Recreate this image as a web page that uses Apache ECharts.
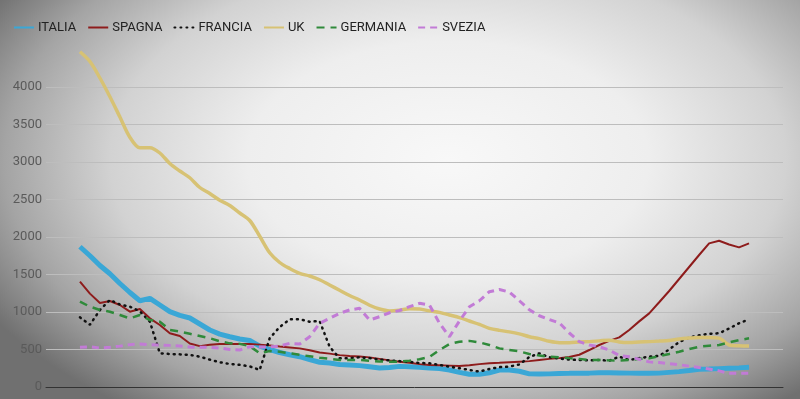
<!DOCTYPE html>
<html>
<head>
<meta charset="utf-8">
<script src="https://cdn.jsdelivr.net/npm/echarts@6/dist/echarts.min.js"></script>
<style>
  html, body { margin: 0; padding: 0; }
  #chart {
    width: 800px;
    height: 399px;
    background: radial-gradient(ellipse 66% 78% at 56% 40%, #f8f8f8 0%, #eeeeee 38%, #d2d2d2 64%, #a4a4a4 84%, #707070 100%);
  }
</style>
</head>
<body>
<div id="chart"></div>
<script>
// giorni (indice), un punto ogni giorno circa
const days = Array.from({ length: 68 }, (_, i) => i);

const italia = [1870, 1750, 1620, 1510, 1380, 1260, 1150, 1182, 1093, 1004, 955, 920, 840, 760, 705, 670, 640, 620, 545, 500,
  460, 430, 404, 365, 330, 320, 300, 293, 285, 270, 252, 260, 275, 271, 264, 252, 245, 227, 195, 170,
  170, 190, 225, 227, 210, 175, 173, 175, 180, 182, 185, 185, 190, 190, 188, 185, 183, 182, 185, 195,
  205, 220, 236, 240, 245, 250, 255, 262];
const spagna = [1404, 1245, 1120, 1147, 1093, 1004, 1040, 916, 827, 716, 680, 580, 545, 562, 573, 573, 573, 575, 565, 555,
  540, 528, 515, 490, 460, 445, 425, 413, 406, 395, 375, 355, 338, 322, 305, 294, 290, 285, 280, 290,
  305, 316, 322, 330, 338, 345, 360, 375, 385, 400, 430, 493, 560, 615, 662, 760, 875, 982, 1130, 1280,
  1440, 1600, 1760, 1915, 1950, 1900, 1862, 1915];
const francia = [929, 830, 1027, 1160, 1100, 1071, 1010, 871, 450, 440, 435, 428, 405, 365, 330, 307, 295, 275, 227, 650,
  800, 902, 902, 871, 880, 537, 382, 385, 396, 385, 365, 355, 345, 335, 320, 316, 295, 271, 250, 227,
  205, 240, 265, 271, 300, 400, 449, 396, 380, 365, 360, 355, 360, 351, 404, 360, 385, 404, 415, 500,
  600, 660, 690, 710, 716, 780, 850, 902];
const uk = [4470, 4340, 4120, 3870, 3600, 3330, 3190, 3190, 3120, 2980, 2880, 2790, 2660, 2580, 2490, 2420, 2320, 2220, 2010, 1790,
  1660, 1580, 1515, 1480, 1430, 1360, 1290, 1220, 1160, 1090, 1040, 1015, 1025, 1045, 1040, 1015, 995, 960, 925, 880,
  835, 782, 755, 735, 708, 671, 645, 610, 591, 591, 600, 605, 615, 625, 600, 592, 600, 605, 612, 620,
  640, 652, 660, 660, 652, 560, 550, 547];
const germania = [1138, 1071, 1027, 1004, 960, 915, 960, 893, 871, 760, 740, 710, 680, 650, 610, 582, 575, 545, 449, 480,
  470, 450, 430, 410, 390, 375, 360, 360, 360, 350, 340, 338, 338, 350, 370, 400, 493, 573, 604, 615,
  595, 560, 515, 493, 475, 440, 420, 404, 396, 385, 375, 360, 360, 355, 351, 360, 375, 382, 410, 440,
  471, 505, 537, 550, 560, 595, 625, 649];
const svezia = [529, 535, 520, 530, 545, 565, 573, 565, 560, 555, 547, 533, 529, 529, 520, 500, 493, 537, 533, 535,
  547, 582, 573, 671, 849, 916, 982, 1027, 1049, 893, 937, 990, 1020, 1071, 1116, 1093, 850, 670, 880, 1070,
  1150, 1271, 1300, 1265, 1150, 1030, 950, 900, 855, 720, 604, 560, 537, 493, 420, 404, 370, 335, 326, 312,
  297, 278, 260, 240, 215, 182, 182, 182];

const yTicks = [0, 500, 1000, 1500, 2000, 2500, 3000, 3500, 4000, 4500];

const pairs = (vals) => vals.map((v, i) => [days[i], v]);

const chart = echarts.init(document.getElementById("chart"));

const option = {
  backgroundColor: "transparent",
  animation: false,
  textStyle: { fontFamily: "Roboto" },
  legend: {
    left: 8,
    top: 16,
    itemWidth: 20,
    itemHeight: 12,
    itemGap: 11,
    itemStyle: { opacity: 0 },
    textStyle: { fontSize: 13, color: "#222", padding: [0, 0, 0, -1] },
    data: ["ITALIA", "SPAGNA", "FRANCIA", "UK", "GERMANIA", "SVEZIA"],
  },
  grid: {
    left: 46,
    right: 17,
    top: 49.5,
    bottom: 12,
  },
  xAxis: {
    type: "value",
    min: -3.4,
    max: 70.4,
    axisLine: { show: true, lineStyle: { color: "#333", width: 1 } },
    axisTick: { show: false },
    axisLabel: { show: false },
    splitLine: { show: false },
  },
  yAxis: {
    type: "value",
    min: yTicks[0],
    max: yTicks[yTicks.length - 1],
    interval: 500,
    axisLine: { show: false },
    axisTick: { show: false },
    axisLabel: {
      color: "#5a5a5a",
      fontSize: 13,
      margin: 4,
      showMaxLabel: false,
      formatter: (v) => String(v),
    },
    splitLine: {
      showMaxLine: false,
      lineStyle: { color: "#bdbdbd", width: 1.2 },
    },
  },
  series: [
    {
      name: "ITALIA",
      type: "line",
      data: pairs(italia),
      symbol: "none",
      lineStyle: { color: "#3aa7d6", width: 5 },
      itemStyle: { color: "#3aa7d6" },
    },
    {
      name: "SPAGNA",
      type: "line",
      data: pairs(spagna),
      symbol: "none",
      lineStyle: { color: "#8e1c1c", width: 2 },
      itemStyle: { color: "#8e1c1c" },
    },
    {
      name: "FRANCIA",
      type: "line",
      data: pairs(francia),
      symbol: "none",
      lineStyle: { color: "#111", width: 2.5, type: [1, 5], cap: "round" },
      itemStyle: { color: "#111" },
    },
    {
      name: "UK",
      type: "line",
      data: pairs(uk),
      symbol: "none",
      smooth: 0.3,
      lineStyle: { color: "#d7c274", width: 3.5 },
      itemStyle: { color: "#d7c274" },
    },
    {
      name: "GERMANIA",
      type: "line",
      data: pairs(germania),
      symbol: "none",
      lineStyle: { color: "#2f8a3a", width: 2.5, type: [8, 6] },
      itemStyle: { color: "#2f8a3a" },
    },
    {
      name: "SVEZIA",
      type: "line",
      data: pairs(svezia),
      symbol: "none",
      lineStyle: { color: "#c27bd6", width: 3, type: [7, 5] },
      itemStyle: { color: "#c27bd6" },
    },
  ],
};

chart.setOption(option);
</script>
</body>
</html>
